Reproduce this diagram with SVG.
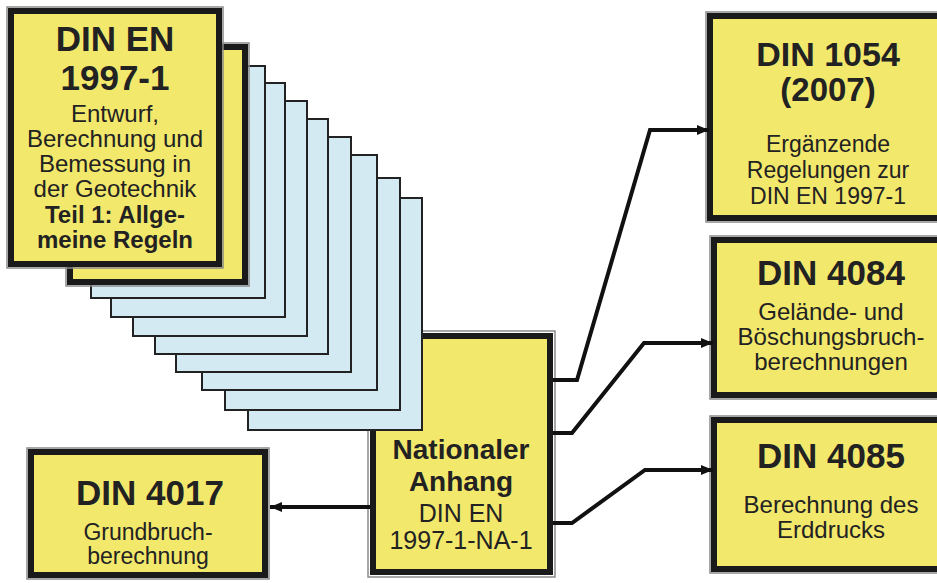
<svg xmlns="http://www.w3.org/2000/svg" width="937" height="583" viewBox="0 0 937 583">
<defs>
<style>
.box{fill:#f2e86c;stroke:#1a1a1a;stroke-width:6}
.edge{fill:none;stroke:#8a8a8a;stroke-width:1.5}
.sheet{fill:#d3eaf2;stroke:#222;stroke-width:2}
.t{font-family:"Liberation Sans",Arial,sans-serif;fill:#222;text-anchor:middle}
.b{font-weight:bold}
.conn{fill:none;stroke:#111;stroke-width:4;stroke-linejoin:miter}
</style>
<marker id="arr" markerUnits="userSpaceOnUse" markerWidth="14" markerHeight="12" refX="12" refY="6" orient="auto">
<path d="M0,1 L12,6 L0,11 Z" fill="#111"/>
</marker>
</defs>
<rect width="937" height="583" fill="#fff"/>

<g id="na">
<rect class="edge" x="368" y="331" width="187" height="246"/>
<rect class="box" x="373" y="336" width="177" height="236"/>
<text class="t b" x="461" y="459" font-size="28">Nationaler</text>
<text class="t b" x="461" y="491" font-size="28">Anhang</text>
<text class="t" x="461" y="522" font-size="25">DIN EN</text>
<text class="t" x="461" y="549" font-size="25">1997-1-NA-1</text>
</g>

<g id="sheets">
<rect class="sheet" x="248" y="198" width="174" height="232"/>
<rect class="sheet" x="225" y="178" width="175" height="232"/>
<rect class="sheet" x="202" y="155" width="175" height="235"/>
<rect class="sheet" x="176" y="137" width="175" height="235"/>
<rect class="sheet" x="155" y="119" width="173" height="235"/>
<rect class="sheet" x="133" y="101" width="174" height="235"/>
<rect class="sheet" x="111" y="83" width="174" height="234"/>
<rect class="sheet" x="91" y="66" width="174" height="232"/>
</g>

<g id="din-en-back">
<rect class="edge" x="66" y="43" width="183" height="243"/>
<rect class="box" x="70" y="47" width="175" height="235"/>
</g>

<g id="din-en-1997-1">
<rect class="edge" x="7" y="7" width="216" height="261"/>
<rect class="box" x="11" y="11" width="208" height="253"/>
<text class="t b" x="115" y="51" font-size="35">DIN EN</text>
<text class="t b" x="115" y="90" font-size="35">1997-1</text>
<text class="t" x="115" y="122" font-size="24">Entwurf,</text>
<text class="t" x="115" y="147" font-size="24">Berechnung und</text>
<text class="t" x="115" y="172" font-size="24">Bemessung in</text>
<text class="t" x="115" y="197" font-size="24">der Geotechnik</text>
<text class="t b" x="115" y="223" font-size="24">Teil 1: Allge-</text>
<text class="t b" x="115" y="248" font-size="24">meine Regeln</text>
</g>

<g id="din-1054">
<rect class="edge" x="706" y="12" width="250" height="210"/>
<rect class="box" x="710" y="16" width="242" height="202"/>
<text class="t b" x="828" y="66" font-size="34">DIN 1054</text>
<text class="t b" x="828" y="101" font-size="33">(2007)</text>
<text class="t" x="828" y="152" font-size="23">Ergänzende</text>
<text class="t" x="828" y="178" font-size="23">Regelungen zur</text>
<text class="t" x="828" y="204" font-size="23">DIN EN 1997-1</text>
</g>

<g id="din-4084">
<rect class="edge" x="710" y="236" width="246" height="163"/>
<rect class="box" x="714" y="240" width="238" height="155"/>
<text class="t b" x="831" y="285" font-size="35">DIN 4084</text>
<text class="t" x="831" y="320" font-size="24">Gelände- und</text>
<text class="t" x="831" y="345" font-size="24">Böschungsbruch-</text>
<text class="t" x="831" y="370" font-size="24">berechnungen</text>
</g>

<g id="din-4085">
<rect class="edge" x="710" y="416" width="246" height="157"/>
<rect class="box" x="714" y="420" width="238" height="149"/>
<text class="t b" x="831" y="468" font-size="35">DIN 4085</text>
<text class="t" x="831" y="513" font-size="24">Berechnung des</text>
<text class="t" x="831" y="538" font-size="24">Erddrucks</text>
</g>

<g id="din-4017">
<rect class="edge" x="27" y="448" width="242" height="131"/>
<rect class="box" x="31" y="452" width="234" height="123"/>
<text class="t b" x="150" y="505" font-size="35">DIN 4017</text>
<text class="t" x="148" y="540" font-size="23">Grundbruch-</text>
<text class="t" x="148" y="564" font-size="23">berechnung</text>
</g>

<g id="connectors">
<path class="conn" d="M370,507 H270" marker-end="url(#arr)"/>
<path class="conn" d="M553,380 H577 L650,130 H709" marker-end="url(#arr)"/>
<path class="conn" d="M553,433 H572 L644,343 H713" marker-end="url(#arr)"/>
<path class="conn" d="M553,523 H572 L645,470 H713" marker-end="url(#arr)"/>
</g>
</svg>
